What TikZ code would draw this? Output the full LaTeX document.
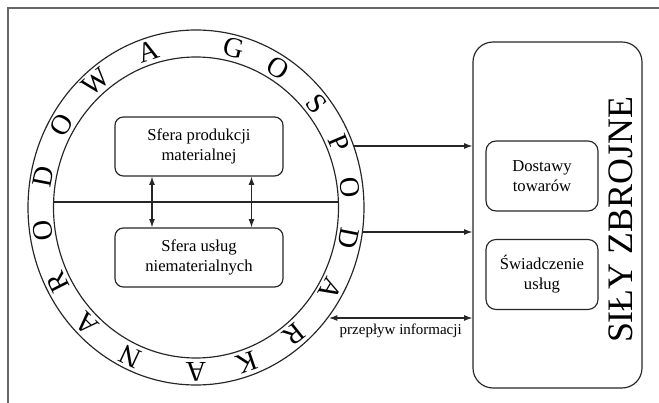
\documentclass[tikz,border=0pt]{standalone}
\usepackage{fontspec}
\setmainfont{Liberation Serif}
\usetikzlibrary{arrows.meta,shapes.geometric}

\begin{document}
\begin{tikzpicture}[x=0.6pt, y=0.6pt, line width=0.7pt, draw=black!85,
        >={Latex[length=5pt,width=3.6pt]},
        sfera/.style={draw, rounded corners=5pt, minimum width=100.8pt, minimum height=35.4pt,
            align=center, font=\fontsize{10}{12}\selectfont},
        usluga/.style={draw, rounded corners=6pt, minimum width=67.2pt, minimum height=42pt,
            align=center, font=\fontsize{10}{12}\selectfont},
        pierscien/.style={draw, ellipse, inner sep=0pt},
        litera/.style={font=\fontsize{17}{19}\selectfont, inner sep=0pt}]
        \useasboundingbox (0,0) rectangle (659,403);
        \draw[black!60, line width=0.8pt] (8,0) -- (8,395) -- (659,395);

        % gospodarka narodowa
        \node[pierscien, minimum width=201.6pt, minimum height=213pt] (ring) at (196,195.5) {};
        \node[pierscien, minimum width=171pt, minimum height=180.6pt] (core) at (196,195.5) {};
        \foreach \lit/\kat [count=\i] in {N/245, A/225, R/207, O/188, D/169, O/150, W/130, A/108,
                G/76, O/58, S/39, P/23, O/7, D/-11, A/-30, R/-51, K/-71, A/-90}
            \node[litera, rotate=\kat-90] (lit\i) at ({196+155*cos(\kat)}, {195.5+164*sin(\kat)}) {\lit};
        \draw ([yshift=3.3pt]core.west) -- ([yshift=3.3pt]core.east);

        \node[sfera] (produkcja) at (199,256.5) {Sfera produkcji\\materialnej};
        \node[sfera] (uslugi) at (199,145.5) {Sfera usług\\niematerialnych};
        \draw[<->] ([xshift=-28.2pt]produkcja.south) -- ([xshift=-28.2pt]uslugi.north);
        \draw[<->] ([xshift=31.5pt]produkcja.south) -- ([xshift=31.5pt]uslugi.north);

        % sily zbrojne
        \node[draw, rounded corners=12pt, minimum width=101.4pt, minimum height=207.6pt] (sily) at (557.5,188) {};
        \node[rotate=90, inner sep=0pt, font=\fontsize{21.5}{24}\selectfont] (napis) at (621,183) {SIŁY ZBROJNE};
        \node[usluga] (dostawy) at (542,227) {Dostawy\\towarów};
        \node[usluga] (swiadczenie) at (542,128.5) {Świadczenie\\usług};

        \coordinate (z1) at (353.6,257);
        \coordinate (z2) at (362.4,171);
        \coordinate (z3) at (329,85);
        \draw[->] (z1) -- (z1 -| sily.west);
        \draw[->] (z2) -- (z2 -| sily.west);
        \draw[<->] (z3) -- (z3 -| sily.west)
            node[midway, below, font=\fontsize{9}{11}\selectfont] (info) {przepływ informacji};
\end{tikzpicture}
\end{document}
